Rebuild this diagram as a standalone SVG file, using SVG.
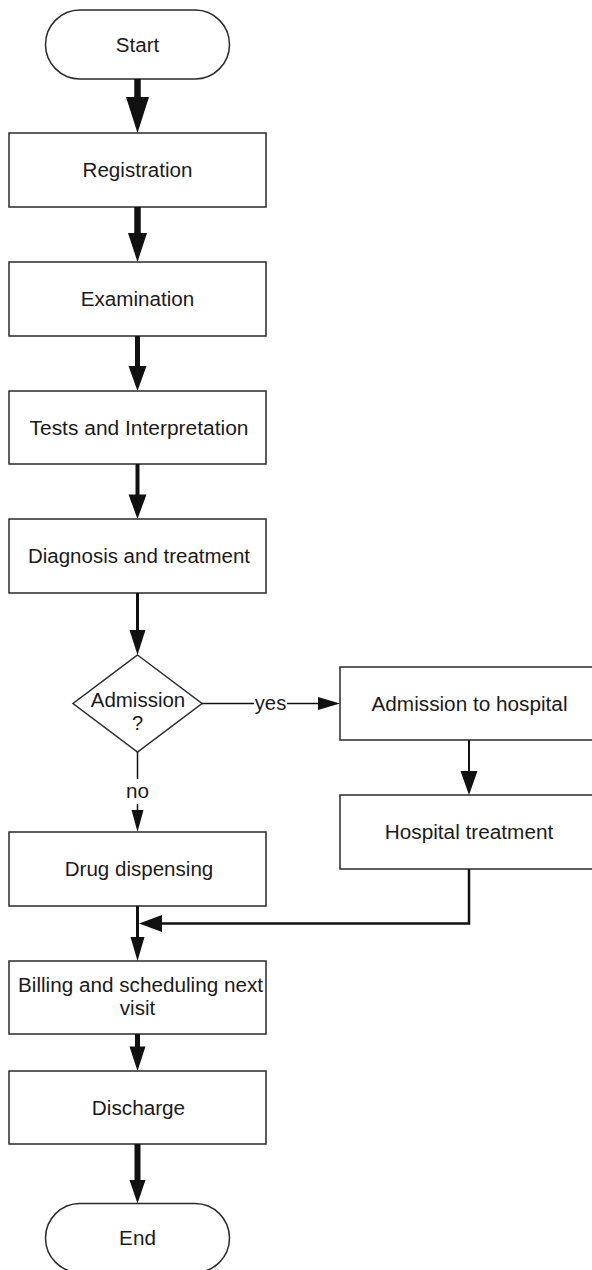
<svg xmlns="http://www.w3.org/2000/svg" width="592" height="1270" viewBox="0 0 592 1270">
<style>
.box{fill:#fff;stroke:#2a2a2a;stroke-width:1.5}
.t{font-family:"Liberation Sans",Arial,sans-serif;font-size:20px;fill:#1a1a1a;text-anchor:middle}
.ln{fill:none;stroke:#111;stroke-linecap:butt}
.hd{fill:#111;stroke:none}
</style>
<rect width="592" height="1270" fill="#fff"/>
<g id="start"><rect class="box" x="45.5" y="10" width="184" height="69" rx="34.5"/><text class="t" x="137.5" y="51.5" textLength="43.5" lengthAdjust="spacingAndGlyphs">Start</text></g>
<g id="registration"><rect class="box" x="9" y="133" width="257" height="74"/><text class="t" x="137.5" y="177" textLength="110" lengthAdjust="spacingAndGlyphs">Registration</text></g>
<g id="examination"><rect class="box" x="9" y="262" width="257" height="74"/><text class="t" x="137.5" y="306" textLength="113.5" lengthAdjust="spacingAndGlyphs">Examination</text></g>
<g id="tests"><rect class="box" x="9" y="391" width="257" height="73"/><text class="t" x="139" y="434.5" textLength="219" lengthAdjust="spacingAndGlyphs">Tests and Interpretation</text></g>
<g id="diagnosis"><rect class="box" x="9" y="519" width="257" height="74"/><text class="t" x="139" y="563" textLength="222" lengthAdjust="spacingAndGlyphs">Diagnosis and treatment</text></g>
<g id="admission-decision"><polygon class="box" points="137.5,655 202,703.5 137.5,752 73,703.5"/><text class="t" x="138" y="707" textLength="94.5" lengthAdjust="spacingAndGlyphs">Admission</text><text class="t" x="137.5" y="730">?</text></g>
<g id="admission-hospital"><rect class="box" x="340" y="667" width="270" height="73"/><text class="t" x="469.5" y="710.5" textLength="196" lengthAdjust="spacingAndGlyphs">Admission to hospital</text></g>
<g id="hospital-treatment"><rect class="box" x="340" y="795" width="270" height="74"/><text class="t" x="469" y="839" textLength="168.5" lengthAdjust="spacingAndGlyphs">Hospital treatment</text></g>
<g id="drug"><rect class="box" x="9" y="832" width="257" height="74"/><text class="t" x="139" y="876" textLength="148.5" lengthAdjust="spacingAndGlyphs">Drug dispensing</text></g>
<g id="billing"><rect class="box" x="9" y="961" width="257" height="73"/><text class="t" x="140.5" y="992" textLength="245" lengthAdjust="spacingAndGlyphs">Billing and scheduling next</text><text class="t" x="137.5" y="1015" textLength="35.5" lengthAdjust="spacingAndGlyphs">visit</text></g>
<g id="discharge"><rect class="box" x="9" y="1071" width="257" height="73"/><text class="t" x="138.5" y="1114.5" textLength="93.3" lengthAdjust="spacingAndGlyphs">Discharge</text></g>
<g id="end"><rect class="box" x="45.5" y="1203.5" width="184" height="69" rx="34.5"/><text class="t" x="137.5" y="1245" textLength="36.8" lengthAdjust="spacingAndGlyphs">End</text></g>
<g id="connectors">
<line class="ln" x1="137.5" y1="79" x2="137.5" y2="99" stroke-width="6.5"/><polygon class="hd" points="126,97 149,97 137.5,133"/>
<line class="ln" x1="137.5" y1="207" x2="137.5" y2="235" stroke-width="6.5"/><polygon class="hd" points="128,233 147,233 137.5,262"/>
<line class="ln" x1="137.5" y1="336" x2="137.5" y2="368" stroke-width="5"/><polygon class="hd" points="128.5,366 146.5,366 137.5,391"/>
<line class="ln" x1="137.5" y1="464" x2="137.5" y2="496" stroke-width="4"/><polygon class="hd" points="128.5,494.5 146.5,494.5 137.5,519"/>
<line class="ln" x1="137.5" y1="593" x2="137.5" y2="632" stroke-width="3"/><polygon class="hd" points="129.5,630 145.5,630 137.5,655"/>
<line class="ln" x1="202" y1="703.5" x2="254" y2="703.5" stroke-width="1.5"/><line class="ln" x1="287" y1="703.5" x2="320" y2="703.5" stroke-width="1.5"/><polygon class="hd" points="318,697 340,703.5 318,710"/>
<text class="t" x="270.5" y="710" textLength="31.5" lengthAdjust="spacingAndGlyphs">yes</text>
<line class="ln" x1="469" y1="740" x2="469" y2="773" stroke-width="2"/><polygon class="hd" points="460.5,771 477.5,771 469,795"/>
<line class="ln" x1="137.5" y1="752" x2="137.5" y2="779" stroke-width="1.5"/><line class="ln" x1="137.5" y1="804" x2="137.5" y2="812" stroke-width="1.5"/><polygon class="hd" points="131.5,810 143.5,810 137.5,832"/>
<text class="t" x="137.5" y="798" textLength="23" lengthAdjust="spacingAndGlyphs">no</text>
<line class="ln" x1="137.5" y1="906" x2="137.5" y2="939" stroke-width="3"/><polygon class="hd" points="130.5,937 144.5,937 137.5,961"/>
<polyline class="ln" points="469,869 469,923.5 160,923.5" stroke-width="2.5"/><polygon class="hd" points="162,915 162,932 139,923.5"/>
<line class="ln" x1="137.5" y1="1034" x2="137.5" y2="1048" stroke-width="5"/><polygon class="hd" points="129.5,1046.5 145.5,1046.5 137.5,1071"/>
<line class="ln" x1="137.5" y1="1144" x2="137.5" y2="1182" stroke-width="6"/><polygon class="hd" points="129.5,1180 145.5,1180 137.5,1203.5"/>
</g>
</svg>
